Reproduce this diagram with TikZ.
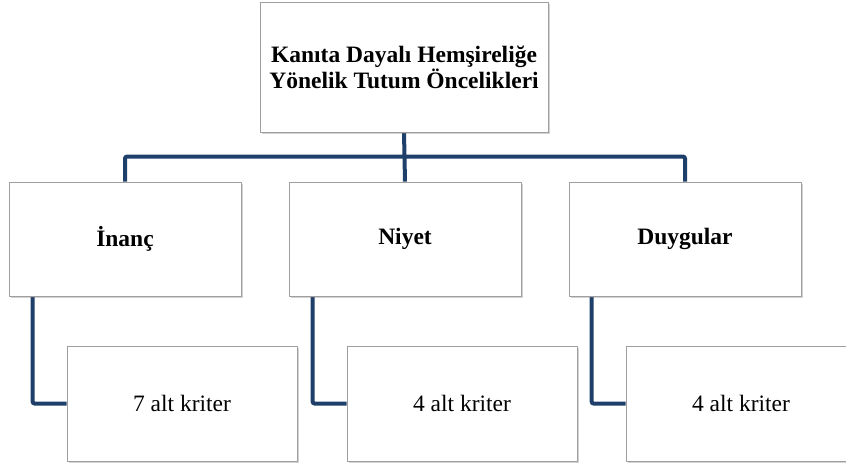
\documentclass[tikz,border=0pt]{standalone}
\usepackage{fontspec}
\setmainfont{Liberation Serif}
\usetikzlibrary{positioning,shadows,backgrounds}
\definecolor{linkblue}{HTML}{1F3F6B}

\begin{document}
\begin{tikzpicture}[x=1pt,y=1pt,node distance=280pt,on grid,
    box/.style={draw=gray!75,line width=0.8pt,fill=white,
        drop shadow={shadow xshift=2pt,shadow yshift=-2pt,opacity=0.35},
        inner sep=0pt,font=\fontsize{23.5}{26}\selectfont},
    rootbox/.style={box,minimum width=288pt,minimum height=130pt,align=center,font=\fontsize{23.5}{26}\selectfont\bfseries},
    midbox/.style={box,minimum width=232pt,minimum height=114pt,font=\fontsize{23.5}{26}\selectfont\bfseries},
    altbox/.style={box,minimum width=230pt,minimum height=115pt},
    link/.style={draw=linkblue,line width=4pt,rounded corners=2pt}]
                        \useasboundingbox (0,0) rectangle (846,-468);
                        \node[rootbox] (root) at (404,-67) {Kanıta Dayalı Hemşireliğe\\Yönelik Tutum Öncelikleri};
                        \node[midbox] (niyet) at (405,-239) {Niyet};
                        \node[midbox] (inanc) [left of=niyet] {İnanç};
                        \node[midbox] (duygular) [right of=niyet] {Duygular};
                        \node[altbox] (alt1) [below right=164.5pt and 57pt of inanc] {7 alt kriter};
                        \node[altbox] (alt2) [right of=alt1] {4 alt kriter};
                        \node[altbox] (alt3) [right=279pt of alt2] {4 alt kriter};
                        \begin{pgfonlayer}{background}
                        \path[link]
                            (root.south) -- (niyet.north)
                            (inanc.north) -- ++(0,25) -| (duygular.north);
                        \path[link]
                            (inanc.south west) ++(24,0) |- (alt1.west)
                            (niyet.south west) ++(24,0) |- (alt2.west)
                            (duygular.south west) ++(23,0) |- (alt3.west);
                        \end{pgfonlayer}
                    \end{tikzpicture}
\end{document}
